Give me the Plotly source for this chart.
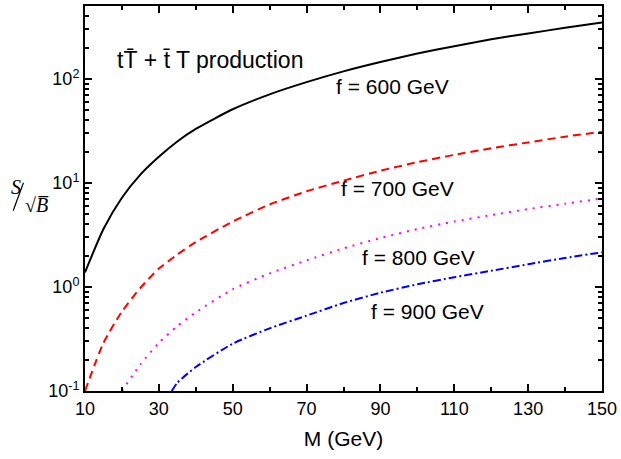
import plotly.graph_objects as go

# Data
m_600 = [10, 15, 20, 25, 30, 35, 40, 50, 60, 70, 80, 90, 100, 110, 120, 130, 140, 150]
s_600 = [1.38, 3.6, 7.2, 12.0, 17.8, 25.0, 33.0, 51.0, 71.0, 93.0, 118.0, 145.0, 175.0, 206.0, 240.0, 273.0, 309.0, 347.0]

m_700 = [10, 15, 20, 25, 30, 35, 40, 50, 60, 70, 80, 90, 100, 110, 120, 130, 140, 150]
s_700 = [0.1, 0.29, 0.58, 0.98, 1.5, 2.05, 2.7, 4.25, 6.2, 8.3, 10.5, 13.1, 15.8, 18.6, 21.5, 24.5, 27.8, 31.0]

m_800 = [20, 25, 30, 35, 40, 50, 60, 70, 80, 90, 100, 110, 120, 130, 140, 150]
s_800 = [0.1, 0.18, 0.29, 0.42, 0.57, 0.95, 1.35, 1.8, 2.35, 2.95, 3.6, 4.25, 4.9, 5.6, 6.3, 7.1]

m_900 = [33.5, 35, 40, 50, 60, 70, 80, 90, 100, 110, 120, 130, 140, 150]
s_900 = [0.1, 0.12, 0.17, 0.285, 0.40, 0.53, 0.70, 0.88, 1.06, 1.24, 1.43, 1.65, 1.9, 2.15]

x_ticks = [10, 30, 50, 70, 90, 110, 130, 150]
y_tickvals = [0.1, 1, 10, 100]
y_ticktext = ["10<sup>-1</sup>", "10<sup>0</sup>", "10<sup>1</sup>", "10<sup>2</sup>"]

series = [
    (m_600, s_600, "f = 600 GeV", "#000000", "solid"),
    (m_700, s_700, "f = 700 GeV", "#FF0000", "8px,5px"),
    (m_800, s_800, "f = 800 GeV", "#FF00FF", "2px,6px"),
    (m_900, s_900, "f = 900 GeV", "#0000FF", "8px,3px,2px,3px"),
]

fig = go.Figure()
for mx, sy, name, col, dash in series:
    fig.add_trace(go.Scatter(x=mx, y=sy, mode="lines", name=name,
                             line=dict(color=col, width=2, dash=dash, shape="spline", smoothing=0.6)))

font_main = "Liberation Sans, Arial, sans-serif"

axis_common = dict(
    showline=True, linecolor="black", linewidth=2, mirror="ticks",
    ticks="inside", ticklen=7, tickwidth=1.5, tickcolor="black",
    showgrid=False, zeroline=False, ticklabeloverflow="allow",
    tickfont=dict(family=font_main, size=18, color="black"),
)

fig.update_xaxes(
    range=[10, 150], tickvals=x_ticks,
    minor=dict(ticks="inside", ticklen=4, tickwidth=1.5, tickcolor="black", dtick=10, tick0=0, showgrid=False),
    title=dict(text="M (GeV)", font=dict(family=font_main, size=21, color="black"), standoff=14),
    **axis_common,
)
fig.update_yaxes(
    type="log", range=[-1, 2.7], tickvals=y_tickvals, ticktext=y_ticktext,
    minor=dict(ticks="inside", ticklen=4, tickwidth=1.5, tickcolor="black", dtick="D1", showgrid=False),
    **axis_common,
)

annotations = [
    dict(x=18.0, y=2.182, xref="x", yref="y", text="tT\u0304 + t\u0304 T production", showarrow=False,
         xanchor="left", yanchor="middle", font=dict(family=font_main, size=23, color="black")),
]
label_pos = [(93.3, 1.925), (94.7, 0.942), (100.2, 0.283), (102.8, -0.239)]
for (mx, sy, name, col, dash), (lx, ly) in zip(series, label_pos):
    annotations.append(dict(x=lx, y=ly, xref="x", yref="y", text=name, showarrow=False,
                            xanchor="center", yanchor="middle",
                            font=dict(family=font_main, size=21, color="black")))

# y-axis title S / sqrt(B)
serif = "Liberation Serif, Times New Roman, serif"
annotations += [
    dict(x=-0.133, y=0.53, xref="paper", yref="paper", text="<i>S</i>", showarrow=False,
         xanchor="center", yanchor="middle", font=dict(family=serif, size=20, color="black")),
    dict(x=-0.092, y=0.482, xref="paper", yref="paper", text="\u221a<i>B\u0305</i>", showarrow=False,
         xanchor="center", yanchor="middle", font=dict(family=serif, size=20, color="black")),
]

fig.update_layout(
    width=621, height=459,
    margin=dict(l=85, r=15, t=4, b=68),
    paper_bgcolor="white", plot_bgcolor="white",
    showlegend=False,
    annotations=annotations,
    shapes=[dict(type="line", xref="paper", yref="paper", x0=-0.139, y0=0.468, x1=-0.119, y1=0.541,
                 line=dict(color="black", width=1.2))],
)

fig.write_html("out.html")
